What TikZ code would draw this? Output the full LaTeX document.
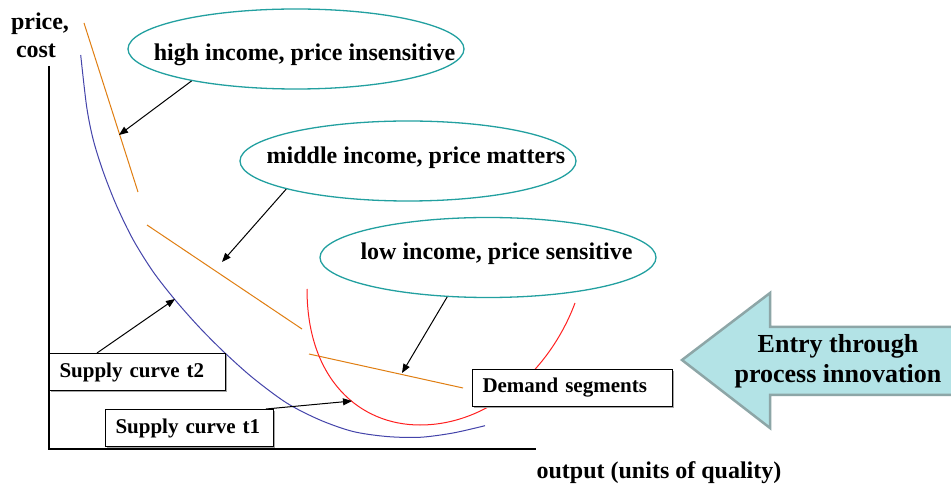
\documentclass[tikz,border=0pt]{standalone}
\usepackage{fontspec}
\setmainfont{Liberation Serif}
\usetikzlibrary{arrows.meta,shapes.geometric,shadows}
\definecolor{ellteal}{HTML}{22A0A0}
\definecolor{orangec}{HTML}{E07E12}
\definecolor{bluec}{HTML}{4444AA}
\definecolor{redc}{HTML}{FF2020}
\definecolor{arrfill}{HTML}{B3E3E6}
\definecolor{arrdraw}{HTML}{8DA6A7}
\begin{document}
\begin{tikzpicture}[x=1pt,y=-1pt,
  lbl/.style={font=\fontsize{24}{28}\selectfont\bfseries, inner sep=0pt, anchor=base},
  ell/.style={ellipse, draw=ellteal, line width=1.3pt, minimum width=336pt, minimum height=80pt, inner sep=0pt},
  boxlbl/.style={draw=black, fill=white, line width=1pt, font=\fontsize{21}{25}\selectfont\bfseries,
     anchor=north west, inner xsep=10pt, inner ysep=0pt, minimum height=37pt, align=left,
     drop shadow={shadow xshift=1.2pt, shadow yshift=-1.2pt, fill=gray!70, opacity=1}},
  conn/.style={-{Triangle[length=9pt,width=7pt]}, line width=1pt, black},
  seg/.style={orangec, line width=1pt},
  axis/.style={line width=1.3pt, black}]
\clip (0,0) rectangle (951,486);
\fill[white] (0,0) rectangle (951,486);

% axes
\draw[axis] (49,66) -- (49,449) -- (536,449);
\node[lbl] (pr) at (40,30) {price,};
\node[lbl] (co) at (36,58) {cost};
\node[lbl] (out) at (659,478) {output (units of quality)};

% demand segments (orange)
\draw[seg] (84,23) -- (138,192);
\draw[seg] (147,225) -- (302,329);
\draw[seg] (309,354) -- (463,388);
\coordinate (o1) at (119,135);
\coordinate (o2) at (222,262);
\coordinate (o3) at (402,373);

% supply curves
\draw[bluec, line width=1pt] plot[smooth, tension=0.5] coordinates {(80.7,55) (86.7,107) (93.3,140) (103.3,172) (116.7,206) (133.3,240) (153.3,272) (176,301) (200,328) (225,353) (253,378) (286.7,403) (320,420) (353,431.5) (386.7,436.5) (420,437.3) (453,433) (485,425.7)};
\draw[redc, line width=1pt] (307,289) .. controls (307,380) and (360,425) .. (420,425) .. controls (490,425) and (550,370) .. (575,303);
\coordinate (b2) at (175,299);
\coordinate (r1) at (352,401);

% ellipses
\node[ell] (e1) at (296,49) {};
\node[ell] (e2) at (408,161) {};
\node[ell] (e3) at (488,257.5) {};
\node[lbl] (t1) at (304.5,61) {high income, price insensitive};
\node[lbl] (t2) at (416,164) {middle income, price matters};
\node[lbl] (t3) at (496.5,260) {low income, price sensitive};

% boxes
\node[boxlbl, text width=156pt] (s2) at (49,353) {Supply curve t2};
\node[boxlbl, text width=148pt] (s1) at (105,409) {Supply curve t1};
\node[boxlbl, text width=180pt] (dm) at (472,369) {Demand segments};

% connectors
\draw[conn] (e1.197) -- (o1);
\draw[conn] (e2.193) -- (o2);
\draw[conn] (e3.224) -- (o3);
\draw[conn] ([xshift=48pt]s2.north west) -- (b2);
\draw[conn] ([xshift=-8pt]s1.north east) -- (r1);

% big arrow
\draw[fill=arrfill, draw=arrdraw, line width=2.5pt, line join=miter]
  (682,360) -- (770,293) -- (770,327) -- (965,327) -- (965,395) -- (770,395) -- (770,428) -- cycle;
\node[font=\fontsize{26}{30}\selectfont\bfseries, align=center, inner sep=0pt] (entry) at (838,361) {Entry through\\process innovation};
\end{tikzpicture}
\end{document}
